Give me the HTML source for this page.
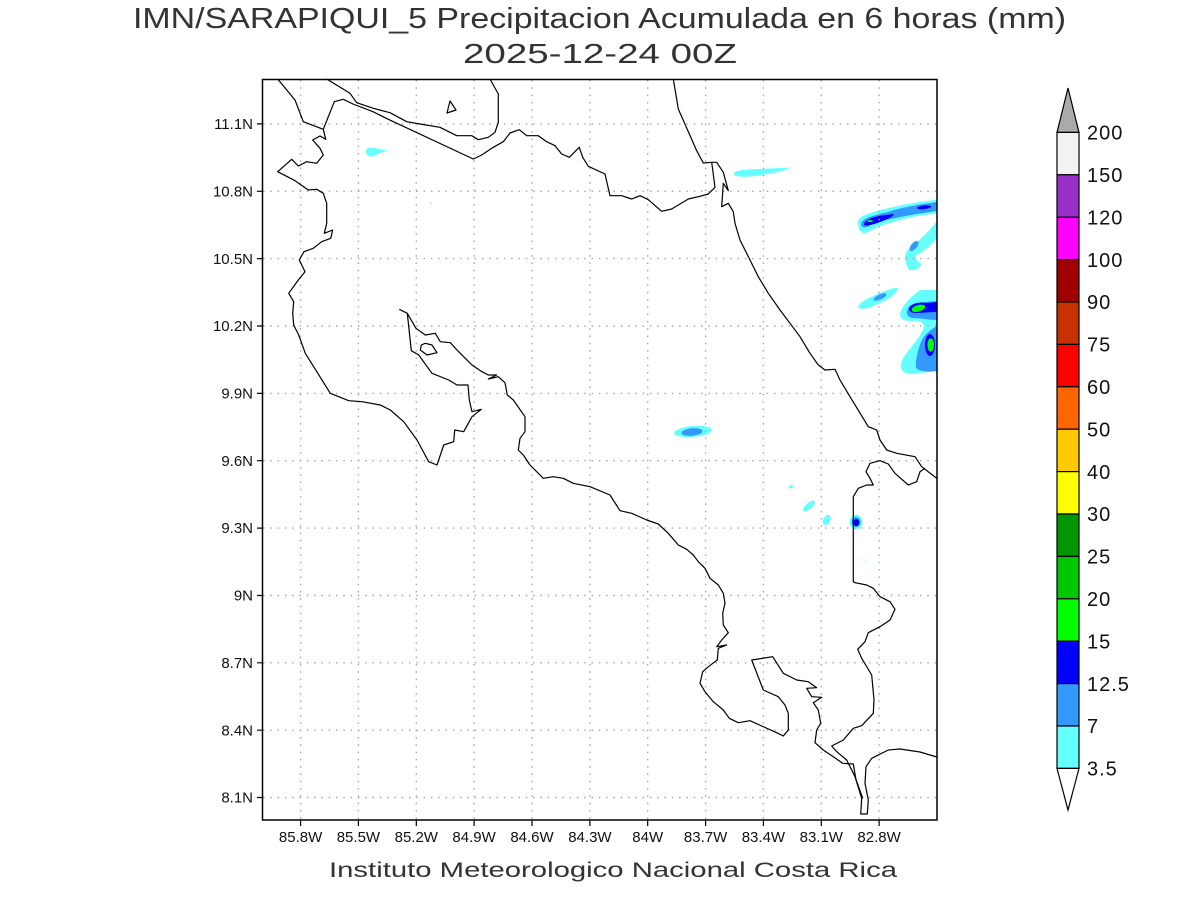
<!DOCTYPE html>
<html><head><meta charset="utf-8"><style>
html,body{margin:0;padding:0;background:#fff;}
svg{display:block;}
text{font-family:"Liberation Sans",sans-serif;fill:#111;}
</style></head><body>
<svg width="1200" height="900" viewBox="0 0 1200 900" xmlns="http://www.w3.org/2000/svg">
<rect width="1200" height="900" fill="#fff"/>
<!-- titles -->
<text x="133" y="28" font-size="29" textLength="933" lengthAdjust="spacingAndGlyphs" style="fill:#333">IMN/SARAPIQUI_5 Precipitacion Acumulada en 6 horas (mm)</text>
<text x="463" y="63" font-size="28" textLength="274" lengthAdjust="spacingAndGlyphs" style="fill:#333">2025-12-24 00Z</text>

<!-- precipitation shading -->
<g stroke="none">
<path fill="#66ffff" d="M366,151 C366,147 372,147.5 377,148.5 L387,150.5 C383,152 378,154 372,156.5 C368,157 366,154 366,151 Z"/>
<rect x="430" y="202.5" width="2" height="1.2" fill="#66ffff"/>
<path fill="#66ffff" d="M734,174 C734,171 740,170 748,169.5 L790,167.5 C785,171 770,174 755,176 C745,177.5 734,177 734,174 Z"/>
<!-- NE band -->
<path fill="#66ffff" d="M858,222 C858,217 866,214 880,210 L900,205.5 L916,202.5 L937,199.5 L937,213.5 L917,216 L900,220 L880,226 L866,233 C860,234 858,228 858,222 Z"/>
<path fill="#3399ff" d="M861,224 C862,219 870,216 886,212.5 L900,208.5 L917,205 L937,202 L937,211 L917,214 L900,217 L886,220 L872,224 C866,229 861,228 861,224 Z"/>
<path fill="#0000ff" d="M864,224 C865,220 872,217 882,215.5 L894,214 C893,217 888,219 880,222 C872,225 864,227 864,224 Z"/>
<ellipse cx="924" cy="207.3" rx="7" ry="1.8" transform="rotate(-6 924 207.3)" fill="#0000ff"/>
<ellipse cx="870" cy="221" rx="3" ry="1" fill="#00ff00"/>
<!-- blob 5 -->
<path fill="#66ffff" d="M937,221 C930,230 920,240 908,250 C903,255 905,262 909,270 C914,271 921,269 921,264 C918,261 915,259 916,256 C925,250 933,244 937,237 Z"/>
<ellipse cx="914" cy="246" rx="3" ry="6" transform="rotate(40 914 246)" fill="#3399ff"/>
<!-- blob 6 -->
<path fill="#66ffff" d="M858,307 C860,302 868,298 880,293 C888,290 895,287 898,288 C897,293 890,299 880,303 C870,308 860,311 858,307 Z"/>
<ellipse cx="880" cy="297" rx="7" ry="2.5" transform="rotate(-25 880 297)" fill="#3399ff"/>
<!-- blob 7 -->
<path fill="#66ffff" d="M937,290 L920,290 C912,296 902,305 900,314 C900,319 904,321 912,321 C918,320 924,322 924,327 C922,334 915,342 909,350 C903,357 900,363 901,368 C902,372 906,374 912,374 L937,371 Z"/>
<path fill="#3399ff" d="M907,311 C908,305 915,302 925,302 L937,301 L937,320 C930,320 920,318 912,318 C908,317 906,314 907,311 Z"/>
<path fill="#3399ff" d="M937,326 C930,330 924,335 921,342 C918,350 915,360 916,368 C920,372 930,372 937,371 Z"/>
<path fill="#0000ff" d="M909,309 C910,304 918,302 926,303 L937,302 L937,312 C930,312 922,313 915,313 C911,313 909,311 909,309 Z"/>
<ellipse cx="930" cy="345" rx="5" ry="11" fill="#0000ff"/>
<ellipse cx="918.5" cy="308.3" rx="7" ry="3.3" transform="rotate(-15 918.5 308.3)" fill="#00ff00"/>
<ellipse cx="930.7" cy="345" rx="3.3" ry="6.7" fill="#00ff00"/>
<!-- blob 8 -->
<ellipse cx="693" cy="431.5" rx="19" ry="5.5" transform="rotate(-5 693 431.5)" fill="#66ffff"/>
<ellipse cx="692" cy="432" rx="10.5" ry="3.8" transform="rotate(-5 692 432)" fill="#3399ff"/>
<!-- small dots -->
<ellipse cx="790.8" cy="486.7" rx="2.5" ry="1.5" transform="rotate(-30 790.8 486.7)" fill="#66ffff"/>
<ellipse cx="809" cy="506" rx="7.5" ry="3" transform="rotate(-40 809 506)" fill="#66ffff"/>
<ellipse cx="826.7" cy="520" rx="3.5" ry="5.5" transform="rotate(30 826.7 520)" fill="#66ffff"/>
<ellipse cx="856" cy="522" rx="6.5" ry="7.3" fill="#66ffff"/>
<ellipse cx="856" cy="522" rx="4.5" ry="5" fill="#3399ff"/>
<ellipse cx="856.3" cy="522.6" rx="3" ry="3.5" fill="#0000ff"/>
<rect x="863" y="559.5" width="2" height="1" fill="#66ffff"/>
</g>

<!-- grid -->
<g stroke="#a8a8a8" stroke-width="1.4" stroke-dasharray="1.5,5.8" fill="none">
<path d="M300.6,80V820M358.4,80V820M416.3,80V820M474.1,80V820M532,80V820M589.9,80V820M647.7,80V820M705.6,80V820M763.4,80V820M821.3,80V820M879.1,80V820"/>
<path d="M263,123.9H937M263,191.3H937M263,258.6H937M263,326H937M263,393.4H937M263,460.7H937M263,528.1H937M263,595.5H937M263,662.8H937M263,730.2H937M263,797.5H937"/>
</g>

<!-- coastlines -->
<g stroke="#000" stroke-width="1.2" fill="none" stroke-linejoin="round">
<polyline points="277.7,79 295,100 303.3,121.7 323.3,129.3 325.7,139.3 320,136 312.7,140 320,148.3 323.3,155 316.7,163.3 306.7,161.7 298.3,166 291.7,159.3 277.7,171.7 295,180.7 308.3,190 316.7,189.3 323.3,193.3 326.7,203.3 326.7,223.3 324.3,233.3 332.7,230 330.7,238.3 321.7,241.7 313.3,248.3 304,251.7 299.3,260 305,271.7 298.3,280 288.7,293.3 293.7,301.7 292.7,313.3 293.7,325 298.7,335 305.3,353.3 330.3,393.3 348.7,400.7 362,401.7 380.3,405 390.3,410 403.7,421.7 417,440 428.7,461.7 437,465 443.7,445 453.7,441.7 454.7,430 463.7,431.7 472,416.7 481.3,409.3 472,411.7 469.3,400 468,385 457,385 448.7,380 432,373.3 418.7,355 411.3,350.7 407.3,313.3 399.3,309.3"/>
<polygon points="421.3,345 425.3,343.3 432,345 437,352.7 427,355 420.3,350"/>
<polyline points="326.7,79 350,93.3 356.7,102.7 373.3,108.3 390,112.7 406.7,121.7 420,124 440,127.3 456.7,135.7 471.7,135.7 478.3,139.7 488.3,137.3 495,132.3 498.3,122.3 498.3,94 490,79"/>
<polygon points="450,101 456,110 447,113"/>
<polyline points="323.3,129.3 334.3,101.7 343.3,99.3 353,104 373,111.7 388.3,119.3 473.3,159 481.7,155 493.3,147.3 503.3,141.7 510,133 519.3,129.7 526.7,135.7 538.3,135.7 546.7,141.7 555,145.7 561.7,154 569.3,157.3 579.3,147.3 582.7,157.3 588.3,166.3 605,174 610,195.7 621.7,195.7 631.7,199 640,195.7 648.3,199.7 661.7,211.3 671.7,209 688.3,199 700,196.3 708.3,194 715,187.3 711.7,162.3 703.3,163 696.7,150.7 678.3,109 673.3,79"/>
<polyline points="711.7,162.3 716.7,162.3 723.3,172.3 728.3,190.7 723.3,183.3 721.7,206.7 728.3,203.3 733.3,211.7 735,223.3 740,240 745,250 750,260 758.3,276.7 768.3,293.3 780,310 790,323.3 800,336.7 810,353.3 818.3,365 825,370 835,369.3 840,380 850,396.7 868.3,426.7 876.7,430 880,440 886.7,450 896.7,453.3 915,456.7 921.7,466.7 937,478.5"/>
<polyline points="925,468.3 920,471.7 916.7,481.7 908.3,485 895,473.3 888.3,464 880,460.7 870,463.3 866,471.7 870,478.3 873.3,485 866.7,485 858.3,488.3 853.3,496.7 853.3,581.7 855,582.7 866.7,585 873.3,588.3 880,596.7 890,601.7 895,609.3 890,620 880,626.7 868.3,632.7 865,641.7 857.7,649.3 861.7,658.3 871.7,675 874,700 873.3,713.3 861.7,725.7 853.3,728.3 843.3,740 831.7,746 836.7,751.7 846.7,760 855,776.7 862.7,798.3"/>
<polyline points="407.3,313.3 416,328.3 425.3,335 435.3,333.3 440.3,341.7 450.3,342.7 457,350 465.3,358.3 472,365 482,371.7 488.3,375 496.7,375 488.3,379 498.3,376.7 505,382.7 507.3,395 513.3,400 525,416.7 525,431.7 520,438.3 518.3,450 523.3,455 530,465 543.3,478.3 553.3,476.7 563.3,478.3 573.3,483.3 590,486.7 610,495 620,510.7 631.7,513.3 646.7,520 658.3,524 668.3,533.3 678.3,545 686.7,549.3 693.3,555 698.3,561.7 705,568.3 710,578.3 718.3,585 723.3,593.3 725,603.3 722.7,613.3 723.3,625 728.3,632.7 721.7,640 716.7,646.7 726.7,645 718.3,648.3 717.3,660 708.3,666.7 702.7,671.7 700,683.3 705,691.7 713.3,701.7 723.3,710 729.3,718.3 738.3,722.7 750,720.7 761.7,726 776.7,732.7 783.3,736 788.3,730 788.3,713.3 785,705 778.3,696.7 763.3,690 751.7,660 772.7,656.7 783.3,673.3 796.7,680 808.3,681.7 816.7,687.7 806.7,688.3 811.7,696.7 821.7,697.3 813.3,702.7 818.3,710 820.7,723.3 816.7,730 815,742.7 823.3,750 833.3,756.7 842.7,763.3 853.3,764 856,780 861.7,798.3 860.7,814 867.3,814 868.3,800 865,783.3 866,766.7 871.7,758.3 888.3,750 900,749 920,752 930,755 937,757"/>
</g>

<!-- frame -->
<rect x="262.5" y="79.5" width="674.5" height="740.5" fill="none" stroke="#000" stroke-width="1.5"/>
<g stroke="#000" stroke-width="1.2">
<path d="M257,123.9H262M257,191.3H262M257,258.6H262M257,326H262M257,393.4H262M257,460.7H262M257,528.1H262M257,595.5H262M257,662.8H262M257,730.2H262M257,797.5H262"/>
<path d="M300.6,820V826M358.4,820V826M416.3,820V826M474.1,820V826M532,820V826M589.9,820V826M647.7,820V826M705.6,820V826M763.4,820V826M821.3,820V826M879.1,820V826"/>
</g>
<g font-size="15" text-anchor="end">
<text x="253" y="129">11.1N</text>
<text x="253" y="196.5">10.8N</text>
<text x="253" y="264">10.5N</text>
<text x="253" y="331">10.2N</text>
<text x="253" y="398.5">9.9N</text>
<text x="253" y="466">9.6N</text>
<text x="253" y="533">9.3N</text>
<text x="253" y="600.5">9N</text>
<text x="253" y="668">8.7N</text>
<text x="253" y="735.5">8.4N</text>
<text x="253" y="802.5">8.1N</text>
</g>
<g font-size="15" text-anchor="middle">
<text x="300.6" y="842">85.8W</text>
<text x="358.4" y="842">85.5W</text>
<text x="416.3" y="842">85.2W</text>
<text x="474.1" y="842">84.9W</text>
<text x="532" y="842">84.6W</text>
<text x="589.9" y="842">84.3W</text>
<text x="647.7" y="842">84W</text>
<text x="705.6" y="842">83.7W</text>
<text x="763.4" y="842">83.4W</text>
<text x="821.3" y="842">83.1W</text>
<text x="879.1" y="842">82.8W</text>
</g>
<text x="329" y="877" font-size="21" textLength="568" lengthAdjust="spacingAndGlyphs" style="fill:#333">Instituto Meteorologico Nacional Costa Rica</text>

<!-- colorbar -->
<g stroke="#000" stroke-width="1.2">
<polygon points="1057,132.4 1079,132.4 1068,88" fill="#aaaaaa"/>
<rect x="1057" y="132.4" width="22" height="42.4" fill="#f2f2f2"/>
<rect x="1057" y="174.8" width="22" height="42.4" fill="#9b30c8"/>
<rect x="1057" y="217.2" width="22" height="42.4" fill="#ff00ff"/>
<rect x="1057" y="259.6" width="22" height="42.4" fill="#a00000"/>
<rect x="1057" y="302" width="22" height="42.4" fill="#c83200"/>
<rect x="1057" y="344.4" width="22" height="42.4" fill="#ff0000"/>
<rect x="1057" y="386.8" width="22" height="42.4" fill="#ff6600"/>
<rect x="1057" y="429.2" width="22" height="42.4" fill="#ffc800"/>
<rect x="1057" y="471.6" width="22" height="42.4" fill="#ffff00"/>
<rect x="1057" y="514" width="22" height="42.4" fill="#009600"/>
<rect x="1057" y="556.4" width="22" height="42.4" fill="#00c800"/>
<rect x="1057" y="598.8" width="22" height="42.4" fill="#00ff00"/>
<rect x="1057" y="641.2" width="22" height="42.4" fill="#0000ff"/>
<rect x="1057" y="683.6" width="22" height="42.4" fill="#3399ff"/>
<rect x="1057" y="726" width="22" height="42.4" fill="#66ffff"/>
<polygon points="1057,768.4 1079,768.4 1068,810" fill="#ffffff"/>
</g>
<g font-size="20" letter-spacing="1">
<text x="1087" y="139.5">200</text>
<text x="1087" y="182">150</text>
<text x="1087" y="224.5">120</text>
<text x="1087" y="267">100</text>
<text x="1087" y="309">90</text>
<text x="1087" y="351.5">75</text>
<text x="1087" y="394">60</text>
<text x="1087" y="436.5">50</text>
<text x="1087" y="479">40</text>
<text x="1087" y="521">30</text>
<text x="1087" y="563.5">25</text>
<text x="1087" y="606">20</text>
<text x="1087" y="648.5">15</text>
<text x="1087" y="691">12.5</text>
<text x="1087" y="733">7</text>
<text x="1087" y="775.5">3.5</text>
</g>
</svg>
</body></html>
